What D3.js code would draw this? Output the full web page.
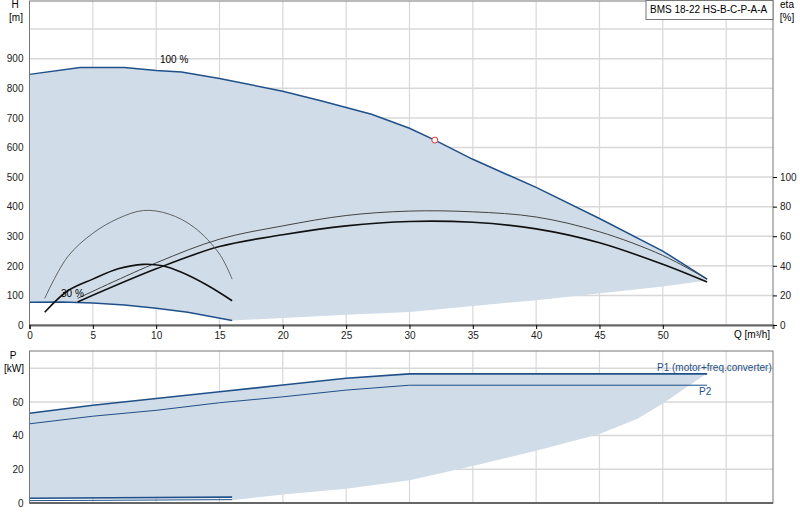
<!DOCTYPE html>
<html><head><meta charset="utf-8">
<script src="https://cdn.jsdelivr.net/npm/d3@7"></script>
<style>body{margin:0;background:#fff;font-family:"Liberation Sans",Arial,sans-serif;font-size:10px}</style>
</head><body>
<svg id="chart" width="800" height="520"></svg>
<script>
// head curves [Q, H]
const hMax = [[0,847],[4,870],[7.5,870],[10,860],[12,855],[15,833],[20,790],[23,758],[27,712],[30,665],[32,625],[35,560],[40,465],[45,360],[50,250],[53.5,155]];
const hMin = [[0,77],[2.5,78],[5,74],[7.5,68],[10,57],[12.5,43],[16,15]];
const hLow = [[16,15],[25,35],[30,44],[40,84],[50,130],[53.5,150]];
// efficiency [Q, eta %]
const etaUpper = [[3.8,18],[10,42],[15,58],[20,67],[25,74],[30,77],[35,76.5],[40,73],[45,63],[50,47],[53.5,31]];
const etaLower = [[3.8,15.6],[10,38],[15,53],[20,61],[25,67],[30,70],[35,69.4],[40,65],[45,55.6],[50,41],[53.5,29]];
const etaArcThin = [[1.2,18],[3,46],[5,62],[7,72],[9,77.4],[11,75],[13,66],[15,48],[16,31]];
const etaArcThick = [[1.2,8.6],[3,23],[5,31],[7,38],[9,41],[10.5,40],[12,35.6],[14,27],[16,16.4]];
const dutyPoint = [32, 625];
// power [Q, P kW]
const p1Max = [[0,53.3],[5,58],[10,62],[15,66],[20,70],[25,74],[30,76.6],[53.5,76.6]];
const p2Max = [[0,47],[5,51.5],[10,55],[15,59.5],[20,63],[25,67],[30,69.9],[53.5,69.9]];
const p1Min = [[0,2.8],[16,3.5]];
const p2Min = [[0,1.4],[16,2]];
const pLow = [[16,1.6],[20,5],[25,8.5],[30,13.5],[35,22],[40,31],[45,41],[48,50],[50,59],[53.5,77]];
const hTicks = [0,100,200,300,400,500,600,700,800,900];
const etaTicks = [0,20,40,60,80,100];
const pTicks = [0,20,40,60];
const qTicks = [0,5,10,15,20,25,30,35,40,45,50];

const svg = d3.select("#chart");
const blue = "#1f5089", fill = "#d0dce7", grid = "#d8d8d8";
const x = d3.scaleLinear().domain([0,58.7]).range([29.5,773]);
const yH = d3.scaleLinear().domain([0,1095]).range([325,1]);
const yE = d3.scaleLinear().domain([0,1095/5]).range([325,1]);
const yP = d3.scaleLinear().domain([0,90.2]).range([503,351]);

function panel(top, bottom, ys, hvals) {
  const g = svg.append("g");
  hvals.forEach(v => g.append("line").attr("x1",x(0)).attr("x2",773).attr("y1",ys(v)).attr("y2",ys(v)).attr("stroke",grid).attr("stroke-width",1.5));
  d3.range(5,59,5).forEach(q => g.append("line").attr("x1",x(q)).attr("x2",x(q)).attr("y1",top).attr("y2",bottom).attr("stroke",grid).attr("stroke-width",1.2));
}
const lineF = (ys) => d3.line().x(d=>x(d[0])).y(d=>ys(d[1]));

// top panel
panel(1, 325, yH, d3.range(100,1001,100));
const areaTop = hMax.concat(hLow.slice().reverse(), hMin.slice().reverse());
svg.append("path").attr("d", lineF(yH)(areaTop)).attr("fill",fill);
svg.append("path").attr("d",lineF(yH)(hMax)).attr("fill","none").attr("stroke",blue).attr("stroke-width",1.5);
svg.append("path").attr("d",lineF(yH)(hMin)).attr("fill","none").attr("stroke",blue).attr("stroke-width",1.5);
[[etaUpper,"#444",1],[etaLower,"#111",1.6],[etaArcThin,"#555",0.9],[etaArcThick,"#111",1.6]].forEach(([d,c,w]) =>
  svg.append("path").attr("d",d3.line().x(p=>x(p[0])).y(p=>yE(p[1])).curve(d3.curveCatmullRom)(d)).attr("fill","none").attr("stroke",c).attr("stroke-width",w));
svg.append("circle").attr("cx",x(dutyPoint[0])).attr("cy",yH(dutyPoint[1])).attr("r",3).attr("fill","#fff").attr("stroke","#e03030");
svg.append("rect").attr("x",29.5).attr("y",1).attr("width",743.5).attr("height",324).attr("fill","none").attr("stroke","#777");
svg.append("g").attr("transform","translate(29.5,0)").call(d3.axisLeft(yH).tickValues(hTicks).tickSize(0).tickPadding(6))
  .call(g=>g.select(".domain").remove()).selectAll("text").attr("font-size",10).attr("fill","#222");
svg.append("g").attr("transform","translate(0,325)").call(d3.axisBottom(x).tickValues(qTicks).tickSize(4).tickPadding(3))
  .call(g=>g.select(".domain").attr("stroke","#666").attr("stroke-width",2)).selectAll("text").attr("font-size",10).attr("fill","#222");
svg.append("g").attr("transform","translate(773,0)").call(d3.axisRight(yE).tickValues(etaTicks).tickSize(4).tickPadding(3))
  .call(g=>g.select(".domain").remove()).selectAll("text").attr("font-size",10).attr("fill","#222");
svg.append("text").attr("x",15).attr("y",8).attr("text-anchor","middle").text("H");
svg.append("text").attr("x",16).attr("y",21).attr("text-anchor","middle").text("[m]");
svg.append("text").attr("x",787).attr("y",8).attr("text-anchor","middle").text("eta");
svg.append("text").attr("x",787).attr("y",21).attr("text-anchor","middle").text("[%]");
svg.append("text").attr("x",770).attr("y",338).attr("text-anchor","end").text("Q [m³/h]");
svg.append("text").attr("x",160).attr("y",63).text("100 %");
svg.append("text").attr("x",61).attr("y",297).text("30 %");
svg.append("rect").attr("x",646).attr("y",0.5).attr("width",127).attr("height",19).attr("fill","#fff").attr("stroke","#777");
svg.append("text").attr("x",650).attr("y",13).text("BMS 18-22 HS-B-C-P-A-A");

// bottom panel
panel(351, 503, yP, [20,40,60,80]);
const areaBot = p1Max.concat(pLow.slice().reverse(), p1Min.slice().reverse());
svg.append("path").attr("d", d3.line().x(d=>x(d[0])).y(d=>yP(d[1])).curve(d3.curveMonotoneX)(areaBot.slice(0,8)) ).attr("fill","none");
svg.append("path").attr("d", lineF(yP)(areaBot)).attr("fill",fill);
[[p1Max,1.6],[p2Max,1],[p1Min,1.6],[p2Min,1]].forEach(([d,w]) =>
  svg.append("path").attr("d",lineF(yP)(d)).attr("fill","none").attr("stroke",blue).attr("stroke-width",w));
svg.append("rect").attr("x",29.5).attr("y",351).attr("width",743.5).attr("height",152).attr("fill","none").attr("stroke","#777");
svg.append("line").attr("x1",29.5).attr("x2",773).attr("y1",503).attr("y2",503).attr("stroke","#666").attr("stroke-width",2);
svg.append("g").attr("transform","translate(29.5,0)").call(d3.axisLeft(yP).tickValues(pTicks).tickSize(0).tickPadding(6))
  .call(g=>g.select(".domain").remove()).selectAll("text").attr("font-size",10).attr("fill","#222");
svg.append("text").attr("x",13).attr("y",359).attr("text-anchor","middle").text("P");
svg.append("text").attr("x",14).attr("y",372).attr("text-anchor","middle").text("[kW]");
svg.append("text").attr("x",657).attr("y",371).attr("fill",blue).text("P1 (motor+freq.converter)");
svg.append("text").attr("x",699).attr("y",395).attr("fill",blue).text("P2");
</script>
</body></html>
